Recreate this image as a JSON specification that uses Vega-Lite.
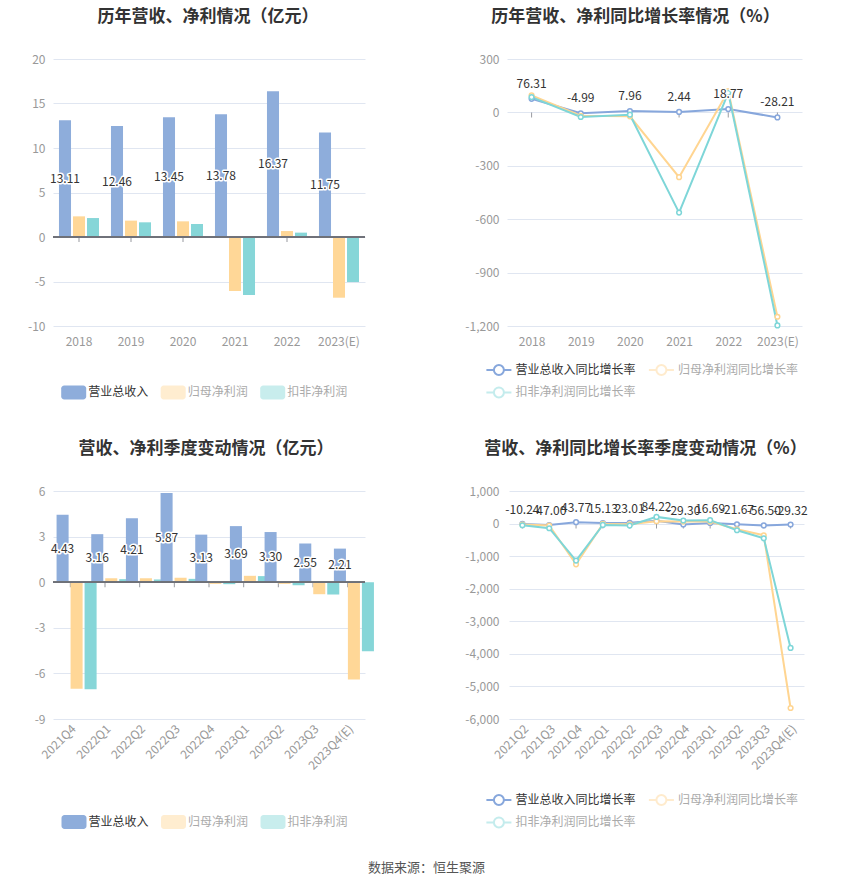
{
  "$schema": "https://vega.github.io/schema/vega-lite/v6.json",
  "padding": {"left": 27, "top": 8, "right": 0, "bottom": 0},
  "background": "white",
  "datasets": {
    "annual": [
      {"year": "2018", "series": "营业总收入", "value": 13.11},
      {"year": "2018", "series": "归母净利润", "value": 2.32},
      {"year": "2018", "series": "扣非净利润", "value": 2.13},
      {"year": "2019", "series": "营业总收入", "value": 12.46},
      {"year": "2019", "series": "归母净利润", "value": 1.84},
      {"year": "2019", "series": "扣非净利润", "value": 1.65},
      {"year": "2020", "series": "营业总收入", "value": 13.45},
      {"year": "2020", "series": "归母净利润", "value": 1.76},
      {"year": "2020", "series": "扣非净利润", "value": 1.46},
      {"year": "2021", "series": "营业总收入", "value": 13.78},
      {"year": "2021", "series": "归母净利润", "value": -6.07},
      {"year": "2021", "series": "扣非净利润", "value": -6.52},
      {"year": "2022", "series": "营业总收入", "value": 16.37},
      {"year": "2022", "series": "归母净利润", "value": 0.67},
      {"year": "2022", "series": "扣非净利润", "value": 0.49},
      {"year": "2023(E)", "series": "营业总收入", "value": 11.75},
      {"year": "2023(E)", "series": "归母净利润", "value": -6.82},
      {"year": "2023(E)", "series": "扣非净利润", "value": -5.06}
    ],
    "annualGrowth": [
      {"year": "2018", "series": "营业总收入同比增长率", "value": 76.31},
      {"year": "2019", "series": "营业总收入同比增长率", "value": -4.99},
      {"year": "2020", "series": "营业总收入同比增长率", "value": 7.96},
      {"year": "2021", "series": "营业总收入同比增长率", "value": 2.44},
      {"year": "2022", "series": "营业总收入同比增长率", "value": 18.77},
      {"year": "2023(E)", "series": "营业总收入同比增长率", "value": -28.21},
      {"year": "2018", "series": "归母净利润同比增长率", "value": 96},
      {"year": "2019", "series": "归母净利润同比增长率", "value": -19},
      {"year": "2020", "series": "归母净利润同比增长率", "value": -22},
      {"year": "2021", "series": "归母净利润同比增长率", "value": -364},
      {"year": "2022", "series": "归母净利润同比增长率", "value": 120},
      {"year": "2023(E)", "series": "归母净利润同比增长率", "value": -1148},
      {"year": "2018", "series": "扣非净利润同比增长率", "value": 86},
      {"year": "2019", "series": "扣非净利润同比增长率", "value": -26},
      {"year": "2020", "series": "扣非净利润同比增长率", "value": -13},
      {"year": "2021", "series": "扣非净利润同比增长率", "value": -563},
      {"year": "2022", "series": "扣非净利润同比增长率", "value": 110},
      {"year": "2023(E)", "series": "扣非净利润同比增长率", "value": -1197}
    ],
    "quarter": [
      {"q": "2021Q4", "series": "营业总收入", "value": 4.43},
      {"q": "2021Q4", "series": "归母净利润", "value": -7.01},
      {"q": "2021Q4", "series": "扣非净利润", "value": -7.05},
      {"q": "2022Q1", "series": "营业总收入", "value": 3.16},
      {"q": "2022Q1", "series": "归母净利润", "value": 0.26},
      {"q": "2022Q1", "series": "扣非净利润", "value": 0.2},
      {"q": "2022Q2", "series": "营业总收入", "value": 4.21},
      {"q": "2022Q2", "series": "归母净利润", "value": 0.26},
      {"q": "2022Q2", "series": "扣非净利润", "value": 0.18},
      {"q": "2022Q3", "series": "营业总收入", "value": 5.87},
      {"q": "2022Q3", "series": "归母净利润", "value": 0.29},
      {"q": "2022Q3", "series": "扣非净利润", "value": 0.22},
      {"q": "2022Q4", "series": "营业总收入", "value": 3.13},
      {"q": "2022Q4", "series": "归母净利润", "value": -0.11},
      {"q": "2022Q4", "series": "扣非净利润", "value": -0.13},
      {"q": "2023Q1", "series": "营业总收入", "value": 3.69},
      {"q": "2023Q1", "series": "归母净利润", "value": 0.42},
      {"q": "2023Q1", "series": "扣非净利润", "value": 0.4},
      {"q": "2023Q2", "series": "营业总收入", "value": 3.3},
      {"q": "2023Q2", "series": "归母净利润", "value": -0.11},
      {"q": "2023Q2", "series": "扣非净利润", "value": -0.2},
      {"q": "2023Q3", "series": "营业总收入", "value": 2.55},
      {"q": "2023Q3", "series": "归母净利润", "value": -0.79},
      {"q": "2023Q3", "series": "扣非净利润", "value": -0.81},
      {"q": "2023Q4(E)", "series": "营业总收入", "value": 2.21},
      {"q": "2023Q4(E)", "series": "归母净利润", "value": -6.4},
      {"q": "2023Q4(E)", "series": "扣非净利润", "value": -4.55}
    ],
    "quarterGrowth": [
      {"q": "2021Q2", "series": "营业总收入同比增长率", "value": -10.24},
      {"q": "2021Q3", "series": "营业总收入同比增长率", "value": -47.0},
      {"q": "2021Q4", "series": "营业总收入同比增长率", "value": 43.77},
      {"q": "2022Q1", "series": "营业总收入同比增长率", "value": 15.13},
      {"q": "2022Q2", "series": "营业总收入同比增长率", "value": 23.01},
      {"q": "2022Q3", "series": "营业总收入同比增长率", "value": 84.22},
      {"q": "2022Q4", "series": "营业总收入同比增长率", "value": -29.3},
      {"q": "2023Q1", "series": "营业总收入同比增长率", "value": 16.69},
      {"q": "2023Q2", "series": "营业总收入同比增长率", "value": -21.67},
      {"q": "2023Q3", "series": "营业总收入同比增长率", "value": -56.5},
      {"q": "2023Q4(E)", "series": "营业总收入同比增长率", "value": -29.32},
      {"q": "2021Q2", "series": "归母净利润同比增长率", "value": -30},
      {"q": "2021Q3", "series": "归母净利润同比增长率", "value": -60},
      {"q": "2021Q4", "series": "归母净利润同比增长率", "value": -1250},
      {"q": "2022Q1", "series": "归母净利润同比增长率", "value": -10},
      {"q": "2022Q2", "series": "归母净利润同比增长率", "value": -20},
      {"q": "2022Q3", "series": "归母净利润同比增长率", "value": 72},
      {"q": "2022Q4", "series": "归母净利润同比增长率", "value": 60},
      {"q": "2023Q1", "series": "归母净利润同比增长率", "value": 62},
      {"q": "2023Q2", "series": "归母净利润同比增长率", "value": -175},
      {"q": "2023Q3", "series": "归母净利润同比增长率", "value": -359},
      {"q": "2023Q4(E)", "series": "归母净利润同比增长率", "value": -5663},
      {"q": "2021Q2", "series": "扣非净利润同比增长率", "value": -51},
      {"q": "2021Q3", "series": "扣非净利润同比增长率", "value": -143},
      {"q": "2021Q4", "series": "扣非净利润同比增长率", "value": -1137},
      {"q": "2022Q1", "series": "扣非净利润同比增长率", "value": -41},
      {"q": "2022Q2", "series": "扣非净利润同比增长率", "value": -61},
      {"q": "2022Q3", "series": "扣非净利润同比增长率", "value": 205},
      {"q": "2022Q4", "series": "扣非净利润同比增长率", "value": 95},
      {"q": "2023Q1", "series": "扣非净利润同比增长率", "value": 105},
      {"q": "2023Q2", "series": "扣非净利润同比增长率", "value": -205},
      {"q": "2023Q3", "series": "扣非净利润同比增长率", "value": -451},
      {"q": "2023Q4(E)", "series": "扣非净利润同比增长率", "value": -3819}
    ]
  },
  "title": {"text": "数据来源：恒生聚源", "orient": "bottom", "anchor": "middle", "fontSize": 13, "fontWeight": "normal", "color": "#555555", "offset": 30, "dx": 9},
  "columns": 2,
  "align": {"row": "each", "column": "none"},
  "spacing": {"row": 38, "column": 90},
  "resolve": {"scale": {"color": "independent", "stroke": "independent"}, "legend": {"color": "independent", "stroke": "independent"}},
  "concat": [
    {
      "width": 312,
      "height": 267,
      "title": {"text": "历年营收、净利情况（亿元）", "dx": -1},
      "data": {"name": "annual"},
      "layer": [
        {
          "layer": [
            {
              "transform": [{"filter": "datum.series === '营业总收入'"}],
              "mark": {"type": "tick", "orient": "vertical", "size": 5, "thickness": 1, "yOffset": 2.5, "color": "#6E7079"},
              "encoding": {
                "x": {"field": "year", "type": "nominal", "sort": null, "scale": {"paddingInner": 0.23, "paddingOuter": 0.115}, "axis": {"labelAngle": 0}},
                "y": {"datum": 0}
              }
            },
            {
              "mark": {"type": "bar"},
              "encoding": {
                "x": {"field": "year", "type": "nominal", "sort": null},
                "xOffset": {"field": "series", "type": "nominal", "scale": {"domain": ["营业总收入", "归母净利润", "扣非净利润"], "paddingInner": 0.14, "paddingOuter": 0}},
                "y": {"field": "value", "type": "quantitative", "scale": {"domain": [-10, 20], "nice": false, "zero": false}, "axis": {"values": [-10, -5, 0, 5, 10, 15, 20], "tickCount": 12}},
                "color": {
                  "field": "series", "type": "nominal",
                  "scale": {"domain": ["营业总收入", "归母净利润", "扣非净利润"], "range": ["#8EADDB", "#FFD797", "#86D6D8"]},
                  "legend": {
                    "orient": "none", "legendX": 13.7, "legendY": 326.4, "direction": "horizontal", "title": null, "padding": 0,
                    "symbolType": "M-1.357,-1H1.357A0.429,0.429,0,0,1,1.786,-0.571V0.571A0.429,0.429,0,0,1,1.357,1H-1.357A0.429,0.429,0,0,1,-1.786,0.571V-0.571A0.429,0.429,0,0,1,-1.357,-1Z",
                    "symbolSize": 196, "symbolStrokeWidth": 0, "labelOffset": 7.5, "columnPadding": 11.5, "labelFontSize": 12,
                    "encode": {
                      "labels": {"update": {"fill": [{"test": "datum.index === 0", "value": "#333333"}, {"value": "#aaaaaa"}]}},
                      "symbols": {"update": {"opacity": [{"test": "datum.index === 0", "value": 1}, {"value": 0.45}]}}
                    }
                  }
                }
              }
            },
            {
              "transform": [{"filter": "datum.series === '营业总收入'"}],
              "mark": {"type": "rule", "color": "#6E7079", "strokeWidth": 1},
              "encoding": {"y": {"datum": 0}}
            }
          ]
        },
        {
          "transform": [{"filter": "datum.series === '营业总收入'"}],
          "encoding": {
            "x": {"field": "year", "type": "nominal", "sort": null},
            "xOffset": {"field": "series", "type": "nominal"},
            "y": {"field": "value", "type": "quantitative", "scale": {"domain": [-20, 40], "nice": false, "zero": false}, "axis": null},
            "text": {"field": "value", "type": "quantitative", "format": ".2f"}
          },
          "layer": [
            {"mark": {"type": "text", "fontSize": 12, "fill": "white", "stroke": "white", "strokeWidth": 3, "strokeJoin": "round", "baseline": "middle"}},
            {"mark": {"type": "text", "fontSize": 12, "fill": "#333333", "baseline": "middle"}}
          ]
        }
      ],
      "resolve": {"scale": {"y": "independent"}, "axis": {"y": "independent"}}
    },
    {
      "width": 295,
      "height": 267,
      "title": {"text": "历年营收、净利同比增长率情况（%）", "dx": -19},
      "data": {"name": "annualGrowth"},
      "encoding": {
        "x": {"field": "year", "type": "nominal", "sort": null, "scale": {"type": "point", "padding": 0.5}, "axis": {"labelAngle": 0}}
      },
      "layer": [
        {
          "transform": [{"filter": "datum.series === '营业总收入同比增长率'"}],
          "mark": {"type": "tick", "orient": "vertical", "size": 5, "thickness": 1, "yOffset": 2.5, "color": "#6E7079"},
          "encoding": {"y": {"datum": 0}}
        },
        {
          "transform": [{"filter": "datum.series === '营业总收入同比增长率'"}],
          "mark": {"type": "rule", "color": "#6E7079", "strokeWidth": 1},
          "encoding": {"y": {"datum": 0}}
        },
        {
          "mark": {"type": "line", "strokeWidth": 2},
          "encoding": {
            "y": {"field": "value", "type": "quantitative", "scale": {"domain": [-1200, 300], "nice": false, "zero": false}, "axis": {"values": [-1200, -900, -600, -300, 0, 300], "format": ",.0f", "tickCount": 12}},
            "stroke": {
              "field": "series", "type": "nominal",
              "scale": {"domain": ["营业总收入同比增长率", "归母净利润同比增长率", "扣非净利润同比增长率"], "range": ["#87A7DC", "#FFD591", "#7ED6D8"]},
              "legend": {
                "orient": "none", "legendX": -16.1, "legendY": 303, "columns": 2, "title": null, "padding": 0,
                "values": ["营业总收入同比增长率", "扣非净利润同比增长率", "归母净利润同比增长率"],
                "symbolType": "M-1.786,0H-0.714M0.714,0H1.786M-0.714,0A0.714,0.714,0,1,0,0.714,0A0.714,0.714,0,1,0,-0.714,0",
                "symbolSize": 196, "symbolStrokeWidth": 2, "symbolFillColor": "white", "labelOffset": 8.5, "columnPadding": 8.5, "rowPadding": 4.4, "labelFontSize": 12,
                "encode": {
                  "labels": {"update": {"fill": [{"test": "datum.index === 0", "value": "#333333"}, {"value": "#aaaaaa"}]}},
                  "symbols": {"update": {"opacity": [{"test": "datum.index === 0", "value": 1}, {"value": 0.45}], "fill": {"value": "white"}}}
                }
              }
            }
          }
        },
        {
          "mark": {"type": "point", "fill": "white", "fillOpacity": 1, "opacity": 1, "size": 22, "strokeWidth": 1.5},
          "encoding": {
            "y": {"field": "value", "type": "quantitative"},
            "stroke": {"field": "series", "type": "nominal"}
          }
        },
        {
          "transform": [{"filter": "datum.series === '营业总收入同比增长率'"}],
          "encoding": {
            "y": {"field": "value", "type": "quantitative"},
            "text": {"field": "value", "type": "quantitative", "format": ".2f"}
          },
          "layer": [
            {"mark": {"type": "text", "fontSize": 12, "fill": "white", "stroke": "white", "strokeWidth": 3, "strokeJoin": "round", "baseline": "middle", "dy": -15}},
            {"mark": {"type": "text", "fontSize": 12, "fill": "#333333", "baseline": "middle", "dy": -15}}
          ]
        }
      ]
    },
    {
      "width": 312,
      "height": 228,
      "title": {"text": "营收、净利季度变动情况（亿元）", "dx": -3},
      "data": {"name": "quarter"},
      "layer": [
        {
          "layer": [
            {
              "transform": [{"filter": "datum.series === '营业总收入'"}],
              "mark": {"type": "tick", "orient": "vertical", "size": 5, "thickness": 1, "yOffset": 2.5, "color": "#6E7079"},
              "encoding": {
                "x": {"field": "q", "type": "nominal", "sort": null, "scale": {"paddingInner": 0.206, "paddingOuter": 0.103}, "axis": {"labelAngle": -45, "labelPadding": 4}},
                "y": {"datum": 0}
              }
            },
            {
              "mark": {"type": "bar"},
              "encoding": {
                "x": {"field": "q", "type": "nominal", "sort": null},
                "xOffset": {"field": "series", "type": "nominal", "scale": {"domain": ["营业总收入", "归母净利润", "扣非净利润"], "paddingInner": 0.103, "paddingOuter": 0}},
                "y": {"field": "value", "type": "quantitative", "scale": {"domain": [-9, 6], "nice": false, "zero": false}, "axis": {"values": [-9, -6, -3, 0, 3, 6], "tickCount": 12}},
                "color": {
                  "field": "series", "type": "nominal",
                  "scale": {"domain": ["营业总收入", "归母净利润", "扣非净利润"], "range": ["#8EADDB", "#FFD797", "#86D6D8"]},
                  "legend": {
                    "orient": "none", "legendX": 14, "legendY": 324, "direction": "horizontal", "title": null, "padding": 0,
                    "symbolType": "M-1.357,-1H1.357A0.429,0.429,0,0,1,1.786,-0.571V0.571A0.429,0.429,0,0,1,1.357,1H-1.357A0.429,0.429,0,0,1,-1.786,0.571V-0.571A0.429,0.429,0,0,1,-1.357,-1Z",
                    "symbolSize": 196, "symbolStrokeWidth": 0, "labelOffset": 7.5, "columnPadding": 11.5, "labelFontSize": 12,
                    "encode": {
                      "labels": {"update": {"fill": [{"test": "datum.index === 0", "value": "#333333"}, {"value": "#aaaaaa"}]}},
                      "symbols": {"update": {"opacity": [{"test": "datum.index === 0", "value": 1}, {"value": 0.45}]}}
                    }
                  }
                }
              }
            },
            {
              "transform": [{"filter": "datum.series === '营业总收入'"}],
              "mark": {"type": "rule", "color": "#6E7079", "strokeWidth": 1},
              "encoding": {"y": {"datum": 0}}
            }
          ]
        },
        {
          "transform": [{"filter": "datum.series === '营业总收入'"}],
          "encoding": {
            "x": {"field": "q", "type": "nominal", "sort": null},
            "xOffset": {"field": "series", "type": "nominal"},
            "y": {"field": "value", "type": "quantitative", "scale": {"domain": [-18, 12], "nice": false, "zero": false}, "axis": null},
            "text": {"field": "value", "type": "quantitative", "format": ".2f"}
          },
          "layer": [
            {"mark": {"type": "text", "fontSize": 12, "fill": "white", "stroke": "white", "strokeWidth": 3, "strokeJoin": "round", "baseline": "middle"}},
            {"mark": {"type": "text", "fontSize": 12, "fill": "#333333", "baseline": "middle"}}
          ]
        }
      ],
      "resolve": {"scale": {"y": "independent"}, "axis": {"y": "independent"}}
    },
    {
      "width": 295,
      "height": 228,
      "title": {"text": "营收、净利同比增长率季度变动情况（%）", "dx": -11},
      "data": {"name": "quarterGrowth"},
      "encoding": {
        "x": {"field": "q", "type": "nominal", "sort": null, "scale": {"type": "point", "padding": 0.5}, "axis": {"labelAngle": -45, "labelPadding": 4}}
      },
      "layer": [
        {
          "transform": [{"filter": "datum.series === '营业总收入同比增长率'"}],
          "mark": {"type": "tick", "orient": "vertical", "size": 5, "thickness": 1, "yOffset": 2.5, "color": "#6E7079"},
          "encoding": {"y": {"datum": 0}}
        },
        {
          "transform": [{"filter": "datum.series === '营业总收入同比增长率'"}],
          "mark": {"type": "rule", "color": "#6E7079", "strokeWidth": 1},
          "encoding": {"y": {"datum": 0}}
        },
        {
          "mark": {"type": "line", "strokeWidth": 2},
          "encoding": {
            "y": {"field": "value", "type": "quantitative", "scale": {"domain": [-6000, 1000], "nice": false, "zero": false}, "axis": {"values": [-6000, -5000, -4000, -3000, -2000, -1000, 0, 1000], "format": ",.0f", "tickCount": 12, "labelPadding": 10}},
            "stroke": {
              "field": "series", "type": "nominal",
              "scale": {"domain": ["营业总收入同比增长率", "归母净利润同比增长率", "扣非净利润同比增长率"], "range": ["#87A7DC", "#FFD591", "#7ED6D8"]},
              "legend": {
                "orient": "none", "legendX": -18.1, "legendY": 301, "columns": 2, "title": null, "padding": 0,
                "values": ["营业总收入同比增长率", "扣非净利润同比增长率", "归母净利润同比增长率"],
                "symbolType": "M-1.786,0H-0.714M0.714,0H1.786M-0.714,0A0.714,0.714,0,1,0,0.714,0A0.714,0.714,0,1,0,-0.714,0",
                "symbolSize": 196, "symbolStrokeWidth": 2, "symbolFillColor": "white", "labelOffset": 8.5, "columnPadding": 8.5, "rowPadding": 4.4, "labelFontSize": 12,
                "encode": {
                  "labels": {"update": {"fill": [{"test": "datum.index === 0", "value": "#333333"}, {"value": "#aaaaaa"}]}},
                  "symbols": {"update": {"opacity": [{"test": "datum.index === 0", "value": 1}, {"value": 0.45}], "fill": {"value": "white"}}}
                }
              }
            }
          }
        },
        {
          "mark": {"type": "point", "fill": "white", "fillOpacity": 1, "opacity": 1, "size": 22, "strokeWidth": 1.5},
          "encoding": {
            "y": {"field": "value", "type": "quantitative"},
            "stroke": {"field": "series", "type": "nominal"}
          }
        },
        {
          "transform": [{"filter": "datum.series === '营业总收入同比增长率'"}],
          "encoding": {
            "y": {"field": "value", "type": "quantitative"},
            "text": {"field": "value", "type": "quantitative", "format": ".2f"}
          },
          "layer": [
            {"mark": {"type": "text", "fontSize": 12, "fill": "white", "stroke": "white", "strokeWidth": 3, "strokeJoin": "round", "baseline": "middle", "dy": -14}},
            {"mark": {"type": "text", "fontSize": 12, "fill": "#333333", "baseline": "middle", "dy": -14}}
          ]
        }
      ]
    }
  ],
  "config": {
    "font": "Noto Sans CJK SC",
    "locale": {"number": {"decimal": ".", "thousands": ",", "grouping": [3], "currency": ["", ""], "minus": "-"}},
    "view": {"stroke": null},
    "title": {"fontSize": 17, "fontWeight": "bold", "color": "#333333", "anchor": "middle", "offset": 27},
    "axisY": {"domain": false, "ticks": false, "tickSize": 0, "labelPadding": 8, "labelOverlap": false, "grid": true, "gridColor": "#E0E6F1", "gridWidth": 1, "labelColor": "#999999", "labelFontSize": 12, "title": null},
    "axisX": {"domain": false, "ticks": false, "tickSize": 0, "grid": false, "labelColor": "#999999", "labelFontSize": 12, "labelPadding": 10, "title": null}
  }
}
